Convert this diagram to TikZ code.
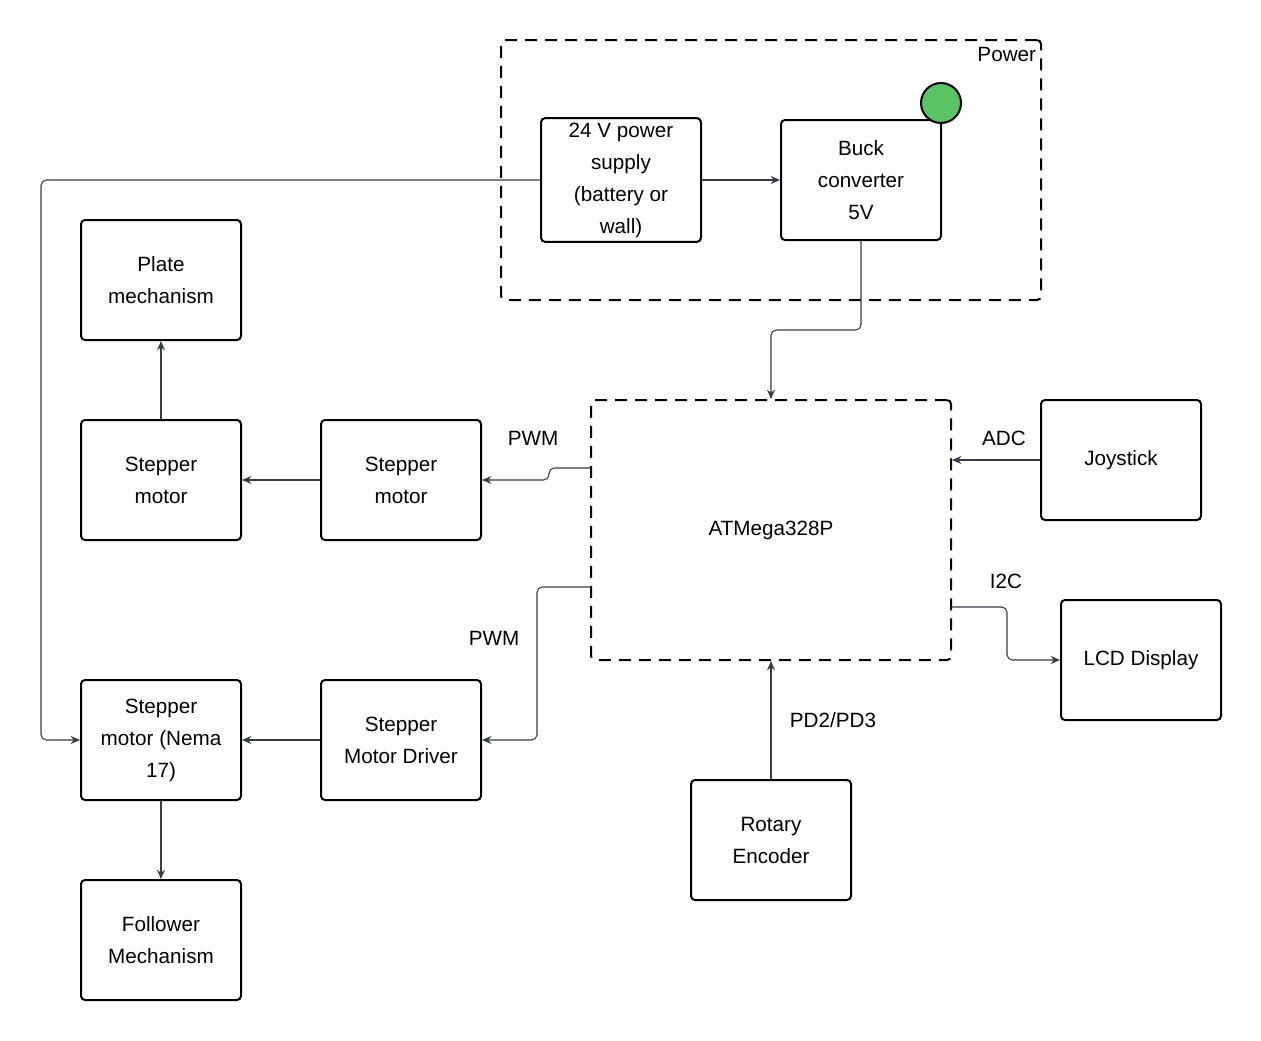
\documentclass[tikz,border=0pt]{standalone}
\usepackage{fontspec}
\setmainfont{Liberation Sans}
\usetikzlibrary{arrows.meta}
\definecolor{wire}{RGB}{55,60,70}
\definecolor{led}{RGB}{90,196,100}
\tikzset{every picture/.style={line width=0.75pt}}
\tikzset{
	blk/.style={draw,rounded corners=3pt,line width=1.5pt,minimum width=120pt,minimum height=90pt,align=center,font=\fontsize{15.5}{24}\selectfont},
	dblk/.style={blk,dash pattern={on 9pt off 6pt},minimum width=270pt,minimum height=195pt},
	lbl/.style={font=\fontsize{15.5}{24}\selectfont},
	wr/.style={draw=wire,line width=0.8pt,rounded corners=4pt,-{Stealth[length=7pt,width=6pt]}}
}
\begin{document}
\begin{tikzpicture}[x=0.75pt,y=0.75pt,yscale=-1,xscale=1]
	\useasboundingbox (0,0) rectangle (1261,1040);

	% power group
	\node [blk,dash pattern={on 9pt off 6pt},minimum width=405pt,minimum height=195pt] (power) at (771,170) {};
	\node [lbl,anchor=north east] at (1041,42) {Power};
	\node [blk] (supply) at (621,180) {24 V power\\supply\\(battery or\\wall)};
	\node [blk] (buck) at (861,180) {Buck\\converter\\5V};
	\node [circle,draw,line width=1.5pt,fill=led,minimum size=30pt,inner sep=0pt] (ledA) at (941,103) {};

	% controller
	\node [dblk] (mcu) at (771,530) {ATMega328P};
	\node [blk] (joy) at (1121,460) {Joystick};
	\node [blk] (lcd) at (1141,660) {LCD Display};
	\node [blk] (enc) at (771,840) {Rotary\\Encoder};

	% motors
	\node [blk] (plate) at (161,280) {Plate\\mechanism};
	\node [blk] (motA) at (161,480) {Stepper\\motor};
	\node [blk] (drvA) at (401,480) {Stepper\\motor};
	\node [blk] (motB) at (161,740) {Stepper\\motor (Nema\\17)};
	\node [blk] (drvB) at (401,740) {Stepper\\Motor Driver};
	\node [blk] (follow) at (161,940) {Follower\\Mechanism};

	\coordinate (mcuA) at (591,468);
	\coordinate (mcuB) at (591,587);
	\coordinate (mcuC) at (951,607);

	% wires
	\draw [wr] (supply.west) -- (41,180) -- (41,740) -- (motB.west);
	\draw [wr] (supply.east) -- (buck.west);
	\draw [wr] (buck.south) -- (861,330) -- (771,330) -- (mcu.north);
	\draw [wr] (motA.north) -- (plate.south);
	\draw [wr] (drvA.west) -- (motA.east);
	\draw [wr] (mcuA) -- (549,468) -- (549,480) -- (drvA.east);
	\draw [wr] (mcuB) -- (537,587) -- (537,740) -- (drvB.east);
	\draw [wr] (drvB.west) -- (motB.east);
	\draw [wr] (motB.south) -- (follow.north);
	\draw [wr] (joy.west) -- (mcu.east |- joy.west);
	\draw [wr] (mcuC) -- (1007,607) -- (1007,660) -- (lcd.west);
	\draw [wr] (enc.north) -- (mcu.south);

	% labels
	\node [lbl] at (533,438) {PWM};
	\node [lbl] at (494,638) {PWM};
	\node [lbl] at (1004,438) {ADC};
	\node [lbl] at (1006,581) {I2C};
	\node [lbl] at (833,720) {PD2/PD3};
\end{tikzpicture}
\end{document}
